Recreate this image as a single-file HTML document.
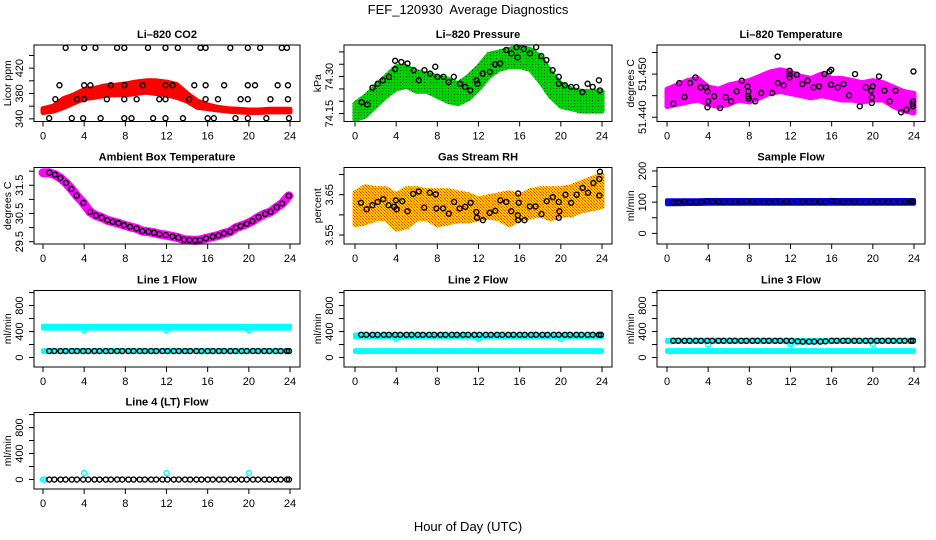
<!DOCTYPE html>
<html><head><meta charset="utf-8"><style>
html,body{margin:0;padding:0;background:#fff;}
svg{display:block;font-family:"Liberation Sans",sans-serif;}
</style></head><body>
<svg id="chart" width="936" height="540" viewBox="0 0 936 540" xmlns="http://www.w3.org/2000/svg">
<defs>
<pattern id="patGreen" width="3" height="3" patternUnits="userSpaceOnUse"><rect width="3" height="3" fill="#00d400"/><rect x="1" y="1" width="1" height="1" fill="#004400"/></pattern>
<pattern id="patRH" width="3" height="3" patternUnits="userSpaceOnUse"><rect width="3" height="3" fill="#ffd000"/><rect width="1" height="1" fill="#ff2000"/><rect x="1" y="1" width="1" height="1" fill="#ff8000"/><rect x="2" y="2" width="1" height="1" fill="#ff4000"/></pattern>
</defs>
<text x="468" y="14" text-anchor="middle" font-size="13" style="white-space:pre">FEF_120930  Average Diagnostics</text>
<text x="468" y="531" text-anchor="middle" font-size="13">Hour of Day (UTC)</text>
</svg>
<script>
// ---------- DATA ----------
const bandHours = [0,1,2,3,4,5,6,7,8,9,10,11,12,13,14,15,16,17,18,19,20,21,22,23,24];
const xTicks = [0,4,8,12,16,20,24];

// CO2
const co2Lo = [350,352,358,365,372,374,377,378,378,380,382,380,378,374,368,358,356,354,352,351,350,350,351,351,351];
const co2Hi = [356,360,372,378,386,388,392,393,395,398,400,400,398,394,380,368,362,358,356,355,354,354,355,355,355];
const co2PtHours = [2.2,4.0,5.1,7.2,7.9,10.2,11.9,13.1,15.3,15.8,18.2,19.9,21.1,23.2,23.7,
 1.6,4.0,4.6,6.6,7.9,9.7,11.9,12.6,14.7,15.8,17.6,19.9,20.6,22.8,23.8,
 1.2,3.3,4.0,6.2,7.9,9.1,11.3,11.9,14.2,15.8,17.0,19.2,19.9,22.1,23.8,
 0.6,2.8,3.9,5.6,7.9,8.6,10.7,11.9,13.6,16.0,16.6,18.7,19.9,21.7,23.9];
const co2PtVals = [452,452,452,452,452,452,452,452,452,452,452,452,452,452,452,
 393,393,393,393,393,393,393,393,393,393,393,393,393,393,393,
 371,371,371,371,371,371,371,371,371,371,371,371,371,371,371,
 341,341,341,341,341,341,341,341,341,341,341,341,341,341,341];

// Pressure
const presLo = [74.125,74.14,74.18,74.22,74.25,74.26,74.24,74.24,74.22,74.20,74.19,74.21,74.25,74.30,74.33,74.34,74.34,74.33,74.28,74.22,74.18,74.17,74.16,74.16,74.16];
const presHi = [74.19,74.22,74.26,74.30,74.34,74.34,74.32,74.31,74.30,74.29,74.27,74.30,74.34,74.39,74.40,74.41,74.42,74.41,74.38,74.32,74.27,74.25,74.24,74.24,74.24];
const presPtHours = [0.65,1.2,1.7,2.2,2.7,3.3,3.9,3.9,4.5,5.1,5.7,6.2,6.75,7.3,7.8,8.0,8.6,9.1,9.6,10.2,10.7,11.2,11.8,11.9,12.4,13.1,13.6,14.1,14.7,15.2,15.7,15.8,16.4,17.0,17.6,18.1,18.6,19.2,19.8,19.8,20.4,21.0,21.5,22.1,22.6,23.1,23.7,23.8];
const presPtVals = [74.196,74.187,74.255,74.271,74.285,74.299,74.364,74.33,74.359,74.353,74.326,74.285,74.326,74.312,74.34,74.299,74.299,74.278,74.299,74.271,74.258,74.244,74.285,74.271,74.312,74.319,74.35,74.353,74.408,74.394,74.419,74.378,74.412,74.394,74.419,74.383,74.367,74.326,74.299,74.271,74.265,74.258,74.258,74.237,74.271,74.258,74.285,74.244];

// Li-820 temperature
const ltLo = [51.4425,51.4430,51.4435,51.4440,51.4430,51.4425,51.4430,51.4440,51.4435,51.4445,51.4455,51.4460,51.4455,51.4450,51.4445,51.4450,51.4445,51.4440,51.4440,51.4435,51.4440,51.4440,51.4425,51.4415,51.4410];
const ltHi = [51.4465,51.4475,51.4485,51.4490,51.4470,51.4465,51.4475,51.4480,51.4485,51.4495,51.4505,51.4510,51.4505,51.4495,51.4490,51.4500,51.4490,51.4490,51.4485,51.4480,51.4485,51.4480,51.4470,51.4460,51.4455];
const ltPtHours = [0.62,1.2,1.7,2.24,2.76,3.28,3.8,3.93,4.0,3.93,4.58,5.16,5.71,6.23,6.78,7.27,7.82,7.9,7.88,7.94,8.57,9.15,10.22,10.77,11.33,10.75,11.91,11.91,11.91,12.62,13.14,13.66,14.25,14.77,15.29,15.8,15.93,15.96,16.58,17.17,17.69,18.27,18.73,19.31,19.83,19.9,19.9,20.0,20.6,21.13,21.64,22.2,22.75,23.27,23.82,23.9,23.9,23.95];
const ltPtVals = [51.44315,51.44792,51.44469,51.44792,51.44923,51.44692,51.44692,51.446,51.44369,51.44231,51.44485,51.44215,51.44462,51.44369,51.446,51.44846,51.44715,51.446,51.44485,51.44431,51.44369,51.44562,51.44562,51.44792,51.44738,51.45408,51.45077,51.45,51.44923,51.44985,51.44769,51.44846,51.44692,51.44715,51.45,51.45062,51.44754,51.451,51.44692,51.44769,51.44508,51.45,51.44254,51.44692,51.44615,51.44462,51.44331,51.44715,51.44946,51.44615,51.44369,51.44615,51.44115,51.44177,51.44308,51.44254,51.44369,51.45062];

// Ambient box temperature
const ambHours = [0.62,1.17,1.69,2.24,2.75,3.27,3.92,4.57,5.15,5.7,6.25,6.77,7.32,7.87,8.46,9.1,9.65,10.24,10.79,11.3,11.92,12.57,13.15,13.7,14.22,14.77,15.26,15.84,16.49,17.04,17.59,18.18,18.73,19.22,19.8,20.34,20.93,21.58,22.13,22.71,23.23,23.88];
const ambVals = [31.946,31.876,31.758,31.582,31.37,31.135,30.876,30.558,30.429,30.358,30.264,30.206,30.159,30.088,30.029,29.97,29.876,29.853,29.818,29.77,29.735,29.688,29.641,29.571,29.559,29.547,29.559,29.618,29.676,29.723,29.794,29.853,29.994,30.053,30.135,30.229,30.37,30.488,30.558,30.723,30.853,31.123];
const ambBandHours = [0.0,0.62,1.17,1.69,2.24,2.75,3.27,3.92,4.57,5.15,5.7,6.25,6.77,7.32,7.87,8.46,9.1,9.65,10.24,10.79,11.3,11.92,12.57,13.15,13.7,14.22,14.77,15.26,15.84,16.49,17.04,17.59,18.18,18.73,19.22,19.8,20.34,20.93,21.58,22.13,22.71,23.23,23.88];
const ambBandVals = [31.946,31.946,31.876,31.758,31.582,31.37,31.135,30.876,30.558,30.429,30.358,30.264,30.206,30.159,30.088,30.029,29.97,29.876,29.853,29.818,29.77,29.735,29.688,29.641,29.571,29.559,29.547,29.559,29.618,29.676,29.723,29.794,29.853,29.994,30.053,30.135,30.229,30.37,30.488,30.558,30.723,30.853,31.123];

// Gas stream RH
const rhLo = [3.575,3.58,3.59,3.59,3.565,3.57,3.59,3.59,3.575,3.58,3.585,3.585,3.59,3.595,3.59,3.575,3.59,3.595,3.6,3.59,3.6,3.6,3.61,3.615,3.62];
const rhHi = [3.655,3.67,3.665,3.665,3.65,3.665,3.665,3.66,3.66,3.66,3.655,3.65,3.64,3.645,3.65,3.655,3.645,3.66,3.665,3.665,3.665,3.67,3.68,3.69,3.70];
const rhPtHours = [0.58,1.13,1.68,2.2,2.74,3.26,3.81,3.97,4.04,4.59,5.1,5.65,6.2,6.72,7.27,7.85,7.91,8.56,9.11,9.63,10.17,10.72,11.24,11.79,11.85,12.43,13.08,13.63,14.12,14.7,15.18,15.82,15.85,15.85,15.91,16.47,16.99,17.54,18.12,18.63,19.22,19.8,19.8,19.86,20.45,21.0,21.54,22.12,22.64,23.16,23.74,23.8,23.74];
const rhPtVals = [3.630,3.614,3.624,3.632,3.639,3.624,3.62,3.636,3.614,3.634,3.609,3.652,3.658,3.618,3.655,3.651,3.616,3.616,3.603,3.632,3.616,3.62,3.63,3.607,3.593,3.587,3.605,3.61,3.636,3.632,3.609,3.599,3.653,3.587,3.63,3.587,3.621,3.621,3.602,3.634,3.644,3.632,3.593,3.609,3.65,3.63,3.65,3.667,3.655,3.679,3.689,3.707,3.648];

// Flows
const flowHours = [0.6,1.1,1.7,2.2,2.8,3.3,3.9,4.4,5.0,5.5,6.1,6.6,7.2,7.7,8.3,8.8,9.4,9.9,10.5,11.0,11.6,12.1,12.7,13.2,13.8,14.3,14.9,15.4,16.0,16.5,17.1,17.6,18.2,18.7,19.3,19.8,20.4,20.9,21.5,22.0,22.6,23.1,23.7,23.9];
const sampleVals = [100,100,102,101,101,101,103,102,101,101,101,101,101,102,101,101,101,101,102,101,101,101,102,101,101,101,101,101,104,101,101,101,101,101,101,102,101,101,101,101,101,101,102,102];
const sampleLo = [93,93,94,94,95,95,95,95,95,95,95,95,95,95,95,95,95,95,95,95,95,95,95,95,95];
const sampleHi = [106,106,106,106,107,107,107,107,107,107,107,107,107,107,107,107,107,107,107,107,107,107,107,107,107];
const line1Vals = [100,100,100,100,100,100,100,100,100,100,100,100,100,100,100,100,100,100,100,100,100,100,100,100,100,100,100,100,100,100,100,100,100,100,100,100,100,100,100,100,100,100,100,100];
const line1CyanHiLo = [445,445,445,445,445,445,445,445,445,445,445,445,445,445,445,445,445,445,445,445,445,445,445,445,445];
const line1CyanHiHi = [490,490,490,490,490,490,490,490,490,490,490,490,490,490,490,490,490,490,490,490,490,490,490,490,490];
const line2Vals = [350,350,350,350,350,350,350,350,350,350,350,350,350,350,350,350,350,350,350,350,350,350,350,350,350,350,350,350,350,350,350,350,350,350,350,350,350,350,350,350,350,350,350,350];
const line2CyanHiLo = [315,315,315,315,315,315,315,315,315,315,315,315,315,315,315,315,315,315,315,315,315,315,315,315,315];
const line2CyanHiHi = [355,355,355,355,355,355,355,355,355,355,355,355,355,355,355,355,355,355,355,355,355,355,355,355,355];
const line3Vals = [258,258,258,258,258,258,258,258,258,258,258,258,258,258,258,258,258,258,258,258,258,258,250,245,245,245,245,250,258,258,258,258,258,258,258,258,258,258,258,258,258,258,258,258];
const line3CyanHiLo = [240,240,240,240,240,240,240,240,240,240,240,240,230,230,230,235,240,240,240,240,240,240,240,240,240];
const line3CyanHiHi = [275,275,275,275,275,275,275,275,275,275,275,275,268,268,268,270,275,275,275,275,275,275,275,275,275];
const line4Vals = [0,0,0,0,0,0,0,0,0,0,0,0,0,0,0,0,0,0,0,0,0,0,0,0,0,0,0,0,0,0,0,0,0,0,0,0,0,0,0,0,0,0,0,0];
const cyanLowLo = [85,85,85,85,85,85,85,85,85,85,85,85,85,85,85,85,85,85,85,85,85,85,85,85,85];
const cyanLowHi = [115,115,115,115,115,115,115,115,115,115,115,115,115,115,115,115,115,115,115,115,115,115,115,115,115];
const spikeHours = [4,12,20];
const line1Spikes = [420,420,420];
const line2Spikes = [290,290,290];
const line3Spikes = [205,205,205];
const line4Spikes = [100,100,100];
const line4ZeroHours = [0,0.2];
const line4ZeroVals = [0,0];

// ---------- DRAWING ----------
const NS = "http://www.w3.org/2000/svg";
const svg = document.getElementById('chart');
const cols = [{x0:43,x1:290,bl:34,br:300},{x0:355,x1:602,bl:344,br:612},{x0:667,x1:914,bl:657,br:925}];
const rowTops = [45,167.5,290.5,412.5];
const H = 76.5;

function el(tag, attrs, parent){
  const e = document.createElementNS(NS, tag);
  for (const k in attrs) e.setAttribute(k, attrs[k]);
  (parent || svg).appendChild(e);
  return e;
}

function panel(ci, ri, name, title, ylab, ymin, ymax, yt, ylabels){
  const c = cols[ci], top = rowTops[ri], bot = top + H;
  const g = el('g', {});
  
  
  const sx = h => c.x0 + (h / 24) * (c.x1 - c.x0);
  const sy = v => bot - (v - ymin) / (ymax - ymin) * H;
  const t = el('text', {x:(c.bl+c.br)/2, y:top-7, 'text-anchor':'middle', 'font-size':11, 'font-weight':'bold'}, g);
  t.textContent = title;
  
  
  const yl = el('text', {transform:`translate(${c.bl-23},${(top+bot)/2}) rotate(-90)`, 'text-anchor':'middle', 'font-size':10.5}, g);
  yl.textContent = ylab;
  
  
  yt.forEach(v => {
    const y = sy(v);
    const tk = el('line', {x1:c.bl-5, x2:c.bl, y1:y, y2:y, stroke:'#000', 'stroke-width':1}, g);
    
    
  });
  ylabels.forEach(v => {
    const lb = el('text', {transform:`translate(${c.bl-11},${sy(v)}) rotate(-90)`, 'text-anchor':'middle', 'font-size':11}, g);
    lb.textContent = String(v);
    
    
  });
  xTicks.forEach(h => {
    const x = sx(h);
    const tk = el('line', {x1:x, x2:x, y1:bot, y2:bot+5, stroke:'#000', 'stroke-width':1}, g);
    
    
    const lb = el('text', {x:x, y:bot+18, 'text-anchor':'middle', 'font-size':11}, g);
    lb.textContent = String(h);
    
    
  });
  const plot = el('g', {}, g);
  
  
  const box = el('rect', {x:c.bl, y:top, width:c.br-c.bl, height:H, fill:'none', stroke:'#000', 'stroke-width':1}, g);
  
  
  return {sx, sy, plot};
}

function band(p, name, hours, lo, hi, fill, sw){
  const pts = [];
  hours.forEach((h,i) => pts.push(p.sx(h).toFixed(1) + ',' + p.sy(hi[i]).toFixed(1)));
  for (let i = hours.length - 1; i >= 0; i--) pts.push(p.sx(hours[i]).toFixed(1) + ',' + p.sy(lo[i]).toFixed(1));
  const poly = el('polygon', {points:pts.join(' '), fill:fill, stroke:fill, 'stroke-width':sw, 'stroke-linejoin':'round'}, p.plot);
  
  
}
function line(p, name, hours, vals, color, sw){
  const pts = hours.map((h,i) => p.sx(h).toFixed(1) + ',' + p.sy(vals[i]).toFixed(1)).join(' ');
  const pl = el('polyline', {points:pts, fill:'none', stroke:color, 'stroke-width':sw, 'stroke-linejoin':'round', 'stroke-linecap':'round'}, p.plot);
  
  
}
function points(p, name, hours, vals, color){
  hours.forEach((h,i) => {
    const c = el('circle', {cx:p.sx(h), cy:p.sy(vals[i]), r:2.5, fill:'none', stroke:color, 'stroke-width':1.4}, p.plot);
    
    
  });
}

// Row 1
let p = panel(0,0,'co2','Li–820 CO2','Licor ppm',335.8,456.5,[340,360,380,400,420,440],[340,380,420]);
band(p,'co2-red-band',bandHours,co2Lo,co2Hi,'#ff0000',5);
points(p,'co2-point',co2PtHours,co2PtVals,'#000');

p = panel(1,0,'pressure','Li–820 Pressure','kPa',74.118,74.428,[74.15,74.20,74.25,74.30,74.35,74.40],['74.15','74.30']);
band(p,'pressure-green-band',bandHours,presLo,presHi,'url(#patGreen)',5);
points(p,'pressure-point',presPtHours,presPtVals,'#000');

p = panel(2,0,'li820-temp','Li–820 Temperature','degrees C',51.43901,51.45675,[51.440,51.445,51.450,51.455],['51.440','51.450']);
band(p,'li820-temp-magenta-band',bandHours,ltLo,ltHi,'#ff00ff',5);
points(p,'li820-temp-point',ltPtHours,ltPtVals,'#000');

// Row 2
p = panel(0,1,'ambient','Ambient Box Temperature','degrees C',29.419,32.130,[29.5,30.0,30.5,31.0,31.5,32.0],['29.5','30.5','31.5']);
line(p,'ambient-magenta-band',ambBandHours,ambBandVals,'#ff00ff',9);
points(p,'ambient-point',ambHours,ambVals,'#000');

p = panel(1,1,'rh','Gas Stream RH','percent',3.5278,3.7175,[3.55,3.60,3.65,3.70],['3.55','3.65']);
band(p,'rh-orange-band',bandHours,rhLo,rhHi,'url(#patRH)',5);
points(p,'rh-point',rhPtHours,rhPtVals,'#000');

p = panel(2,1,'sample-flow','Sample Flow','ml/min',-34,211,[0,50,100,150,200],[0,100,200]);
band(p,'sample-flow-blue-band',bandHours,sampleLo,sampleHi,'#0000ff',4);
points(p,'sample-flow-point',flowHours,sampleVals,'#000');

// Row 3
const flowTicks = [0,200,400,600,800,1000], flowLabels = [0,400,800];
p = panel(0,2,'line1','Line 1 Flow','ml/min',-146,1032,flowTicks,flowLabels);
band(p,'line1-cyan-upper-band',bandHours,line1CyanHiLo,line1CyanHiHi,'#00ffff',4);
band(p,'line1-cyan-lower-band',bandHours,cyanLowLo,cyanLowHi,'#00ffff',4);
points(p,'line1-cyan-spike',spikeHours,line1Spikes,'#00ffff');
points(p,'line1-point',flowHours,line1Vals,'#000');

p = panel(1,2,'line2','Line 2 Flow','ml/min',-146,1032,flowTicks,flowLabels);
band(p,'line2-cyan-upper-band',bandHours,line2CyanHiLo,line2CyanHiHi,'#00ffff',4);
band(p,'line2-cyan-lower-band',bandHours,cyanLowLo,cyanLowHi,'#00ffff',4);
points(p,'line2-cyan-spike',spikeHours,line2Spikes,'#00ffff');
points(p,'line2-point',flowHours,line2Vals,'#000');

p = panel(2,2,'line3','Line 3 Flow','ml/min',-146,1032,flowTicks,flowLabels);
band(p,'line3-cyan-upper-band',bandHours,line3CyanHiLo,line3CyanHiHi,'#00ffff',4);
band(p,'line3-cyan-lower-band',bandHours,cyanLowLo,cyanLowHi,'#00ffff',4);
points(p,'line3-cyan-spike',spikeHours,line3Spikes,'#00ffff');
points(p,'line3-point',flowHours,line3Vals,'#000');

// Row 4
p = panel(0,3,'line4','Line 4 (LT) Flow','ml/min',-146,1032,flowTicks,flowLabels);
points(p,'line4-cyan-zero',line4ZeroHours,line4ZeroVals,'#00ffff');
points(p,'line4-cyan-spike',spikeHours,line4Spikes,'#00ffff');
points(p,'line4-point',flowHours,line4Vals,'#000');
</script>
</body></html>
